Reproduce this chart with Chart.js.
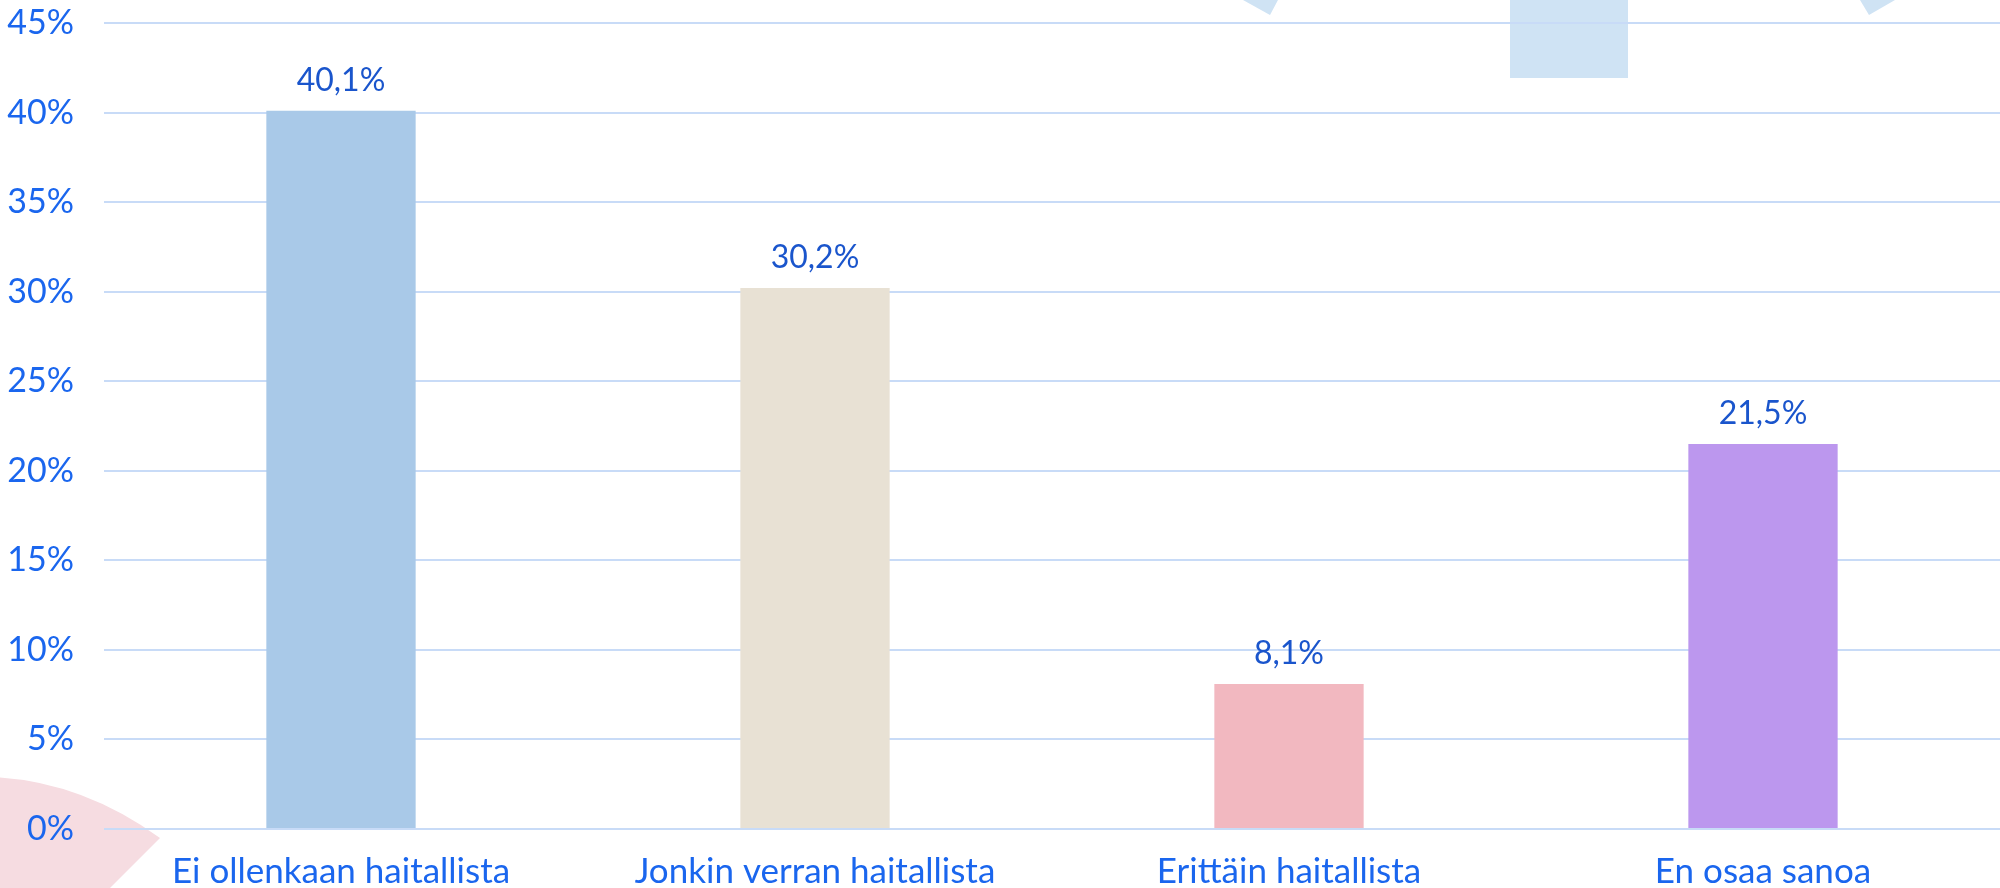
<!DOCTYPE html>
<html>
<head>
<meta charset="utf-8">
<script src="https://cdn.jsdelivr.net/npm/chart.js@4"></script>
<style>
  html, body { margin: 0; padding: 0; background: #fff; }
  #wrap { width: 2000px; height: 888px; }
</style>
</head>
<body>
<div id="wrap"><canvas id="canvas"></canvas></div>
<script>
// chart data
var categories = ['Ei ollenkaan haitallista', 'Jonkin verran haitallista', 'Erittäin haitallista', 'En osaa sanoa'];
var values = [40.1, 30.2, 8.1, 21.5];
var barColors = ['#a9c9e8', '#e8e1d4', '#f2b8c0', '#bc97ee'];
var yTicks = [0, 5, 10, 15, 20, 25, 30, 35, 40, 45];

// background shapes behind the plot
var decor = {
    id: 'decor',
    beforeDraw: function(chart){
        var c = chart.ctx;
        c.save();
        c.fillStyle = '#cfe3f4';
        c.fillRect(1510, 0, 118, 78);
        c.beginPath();
        c.moveTo(1243, 0); c.lineTo(1278, 0); c.lineTo(1270, 15); c.closePath();
        c.fill();
        c.beginPath();
        c.moveTo(1860, 0); c.lineTo(1895, 0); c.lineTo(1869, 15); c.closePath();
        c.fill();
        // pink wedge bottom-left
        c.fillStyle = '#f6dce1';
        c.beginPath();
        c.moveTo(110, 888);
        c.lineTo(160, 838);
        c.quadraticCurveTo(80, 780, -10, 777);
        c.lineTo(-10, 888);
        c.closePath();
        c.fill();
        c.restore();
    }
};

// value labels on top of bars
var barLabels = {
    id: 'barLabels',
    afterDatasetsDraw: function(chart){
        var c = chart.ctx;
        var meta = chart.getDatasetMeta(0);
        c.save();
        c.font = '32px Lato';
        c.fillStyle = '#1a55cc';
        c.textAlign = 'center';
        c.textBaseline = 'bottom';
        meta.data.forEach(function(bar, i){
            var txt = values[i].toFixed(1).replace('.', ',') + '%';
            c.fillText(txt, bar.x, bar.y - 14);
        });
        c.restore();
    }
};

const ctx = document.getElementById('canvas').getContext('2d');
const myChart = new Chart(ctx, {
    type: 'bar',
    data: {
        labels: categories,
        datasets: [{
            data: values,
            backgroundColor: barColors,
            borderWidth: 0,
            categoryPercentage: 1,
            barPercentage: 0.315
        }]
    },
    options: {
        responsive: true,
        maintainAspectRatio: false,
        animation: false,
        layout: { padding: { top: 0, right: 0, left: 0, bottom: 0 } },
        plugins: {
            legend: { display: false },
            tooltip: { enabled: false }
        },
        scales: {
            y: {
                min: 0,
                max: 45,
                afterFit: function(scale){
                    scale.width = 104;
                    scale.paddingTop = 23;
                    scale.paddingBottom = 0;
                },
                afterBuildTicks: function(scale){
                    scale.ticks = yTicks.map(function(v){ return { value: v }; });
                },
                ticks: {
                    color: '#1a66ee',
                    font: { family: 'Lato', size: 34 },
                    padding: 30,
                    callback: function(v){ return v + '%'; }
                },
                border: { display: false },
                grid: { color: '#c8dbf7', lineWidth: 2, drawTicks: false }
            },
            x: {
                afterFit: function(scale){ scale.height = 59; },
                ticks: {
                    color: '#1a66ee',
                    font: { family: 'Lato', size: 35 },
                    padding: 22,
                    maxRotation: 0,
                    autoSkip: false
                },
                border: { display: false },
                grid: { display: false, drawTicks: false }
            }
        }
    },
    plugins: [decor, barLabels]
});
</script>
</body>
</html>
